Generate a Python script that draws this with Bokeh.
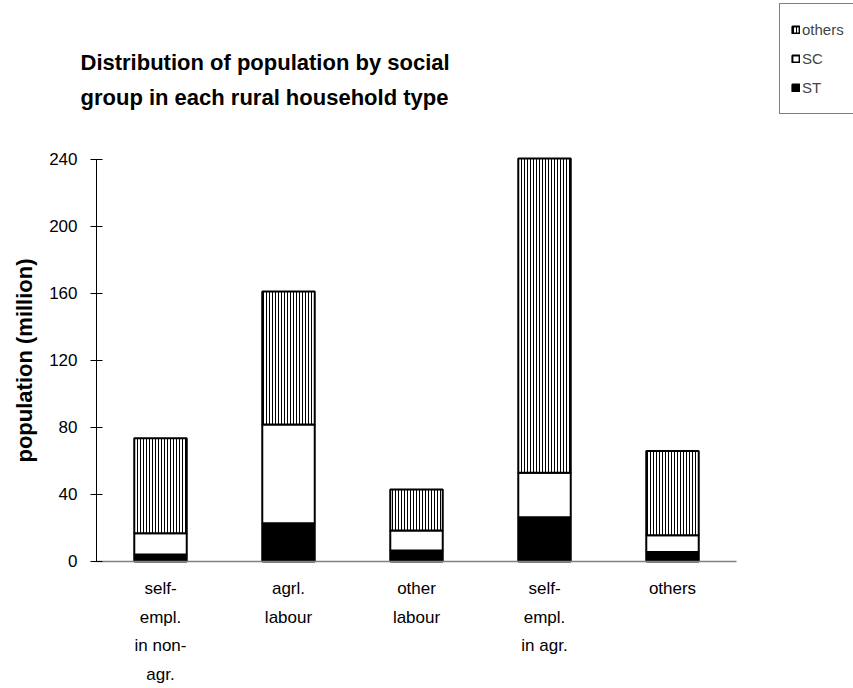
from bokeh.plotting import figure
from bokeh.models import (Range1d, Label, Legend, LegendItem,
                          ColumnDataSource, FixedTicker)
from bokeh.embed import file_html
from bokeh.resources import INLINE

# ---- data (million persons) ----
categories = ["self-\nempl.\nin non-\nagr.", "agrl.\nlabour", "other\nlabour",
              "self-\nempl.\nin agr.", "others"]
st_values = [4.2, 22.9, 6.6, 26.4, 5.6]
sc_values = [12.7, 58.9, 11.9, 26.6, 10.1]
others_values = [56.7, 79.4, 24.5, 187.6, 50.2]
y_ticks = [0, 40, 80, 120, 160, 200, 240]

xpos = [i + 0.5 for i in range(len(categories))]
sc_bottom = st_values
sc_top = [a + b for a, b in zip(st_values, sc_values)]
oth_top = [a + b for a, b in zip(sc_top, others_values)]

src = ColumnDataSource(dict(x=xpos, st=st_values, sc_b=sc_bottom,
                            sc_t=sc_top, oth_t=oth_top))

FONT = "Liberation Sans"

p = figure(width=853, height=688, output_backend="svg", toolbar_location=None,
           x_range=Range1d(-0.75, 5.914), y_range=Range1d(-75.82, 334.9),
           min_border_left=0, min_border_right=0,
           min_border_top=0, min_border_bottom=0,
           frame_width=853, frame_height=688)
p.outline_line_color = None
p.xgrid.grid_line_color = None
p.ygrid.grid_line_color = None
p.background_fill_color = "white"
p.border_fill_color = "white"

W = 0.41
r_st = p.vbar(x="x", bottom=0, top="st", width=W, source=src,
              fill_color="black", line_color="black", line_width=2)
r_sc = p.vbar(x="x", bottom="sc_b", top="sc_t", width=W, source=src,
              fill_color="white", line_color="black", line_width=2)
r_oth = p.vbar(x="x", bottom="sc_t", top="oth_t", width=W, source=src,
               fill_color="white", line_color="black", line_width=2,
               hatch_pattern="vertical_line", hatch_scale=3, hatch_weight=1,
               hatch_color="black")

# y axis (drawn at x = 0 inside the frame)
ya = p.yaxis[0]
ya.fixed_location = 0
ya.ticker = FixedTicker(ticks=y_ticks)
ya.bounds = (0, 240)
ya.axis_line_color = "black"
ya.major_tick_line_color = "black"
ya.major_tick_out = 6
ya.major_tick_in = 6
ya.minor_tick_line_color = None
ya.major_label_standoff = 13
ya.major_label_text_font = FONT
ya.major_label_text_font_size = "17px"
ya.major_label_text_color = "black"
ya.axis_label = "population (million)"
ya.axis_label_text_font = FONT
ya.axis_label_text_font_size = "22px"
ya.axis_label_text_font_style = "bold"
ya.axis_label_text_color = "black"
ya.axis_label_standoff = 9

# x axis (drawn at y = 0 inside the frame)
xa = p.xaxis[0]
xa.fixed_location = 0
xa.ticker = FixedTicker(ticks=xpos)
xa.major_label_overrides = {x: c for x, c in zip(xpos, categories)}
xa.bounds = (0, len(categories))
xa.axis_line_color = "#808080"
xa.axis_line_width = 1.5
xa.major_tick_line_color = None
xa.minor_tick_line_color = None
xa.major_tick_out = 0
xa.major_tick_in = 0
xa.major_label_standoff = 18
xa.major_label_text_font = FONT
xa.major_label_text_font_size = "17px"
xa.major_label_text_color = "black"
xa.major_label_text_line_height = 1.5

# title (two lines)
for txt, yy in [("Distribution of population by social", 297.9),
                ("group in each rural household type", 277.0)]:
    p.add_layout(Label(x=-0.125, y=yy, text=txt,
                       text_font=FONT, text_font_size="22px",
                       text_font_style="bold", text_color="black",
                       text_baseline="alphabetic", text_align="left"))

legend = Legend(items=[LegendItem(label="others", renderers=[r_oth]),
                       LegendItem(label="SC", renderers=[r_sc]),
                       LegendItem(label="ST", renderers=[r_st])],
                location=(779, 574), orientation="vertical",
                glyph_width=9, glyph_height=9, label_standoff=2,
                label_text_font=FONT, label_text_font_size="15px",
                label_height=29, spacing=0, padding=11, margin=0,
                border_line_color="black", border_line_width=1,
                background_fill_color="white", background_fill_alpha=1)
p.add_layout(legend)

open("out.html", "w").write(file_html(p, INLINE))
